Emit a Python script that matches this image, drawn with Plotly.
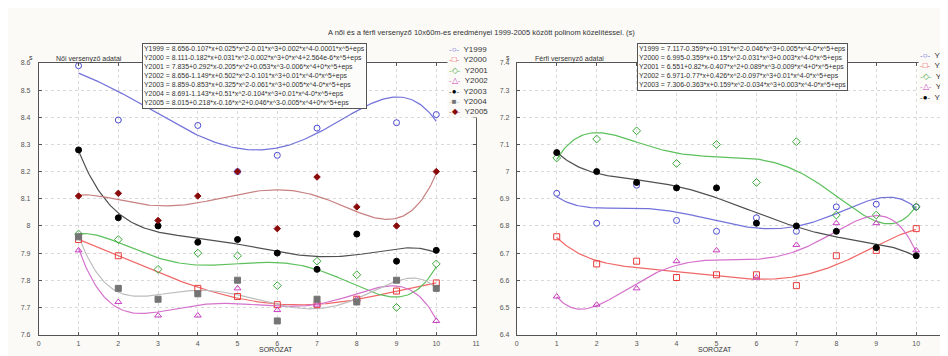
import numpy as np
import plotly.graph_objects as go

# ---------------- data ----------------
x_vals = [1, 2, 3, 4, 5, 6, 7, 8, 9, 10]

women_names = ["Y1999", "Y2000", "Y2001", "Y2002", "Y2003", "Y2004", "Y2005"]
# x=3 and x=8 of Y1999 lie behind the equation box (estimated from the fitted curve);
# x=5 of Y1999 overlaps the Y2005 marker at 8.2
w1999 = [8.59, 8.39, 8.52, 8.37, 8.20, 8.26, 8.36, 8.52, 8.38, 8.41]
w2000 = [7.95, 7.89, None, 7.77, 7.74, 7.71, 7.71, 7.73, 7.76, 7.79]
w2001 = [7.97, 7.95, 7.84, 7.90, 7.89, 7.78, 7.87, 7.82, 7.70, 7.86]
w2002 = [7.91, 7.72, 7.67, 7.67, 7.77, 7.69, 7.71, 7.73, 7.80, 7.65]
w2003 = [8.28, 8.03, 8.00, 7.94, 7.95, 7.90, 7.84, 7.97, 7.87, 7.91]
w2004 = [7.96, 7.77, 7.73, 7.75, 7.80, 7.65, 7.73, 7.72, 7.80, 7.77]
w2005 = [8.11, 8.12, 8.02, 8.11, 8.20, 7.99, 8.18, 8.07, 8.00, 8.20]
women_series = [w1999, w2000, w2001, w2002, w2003, w2004, w2005]

men_names = ["Y1999", "Y2000", "Y2001", "Y2002", "Y2003"]
m1999 = [6.92, 6.81, 6.95, 6.82, 6.78, 6.83, 6.78, 6.87, 6.88, 6.87]
m2000 = [6.76, 6.66, 6.67, 6.61, 6.62, 6.62, 6.58, 6.69, 6.71, 6.79]
m2001 = [7.05, 7.12, 7.15, 7.03, 7.10, 6.96, 7.11, 6.84, 6.84, 6.87]
m2002 = [6.54, 6.51, 6.57, 6.67, 6.71, 6.61, 6.73, 6.81, 6.81, 6.71]
m2003 = [7.07, 7.00, 6.96, 6.94, 6.94, 6.81, 6.80, 6.78, 6.72, 6.69]
men_series = [m1999, m2000, m2001, m2002, m2003]

women_eq = [
    "Y1999 = 8.656-0.107*x+0.025*x^2-0.01*x^3+0.002*x^4-0.0001*x^5+eps",
    "Y2000 = 8.111-0.182*x+0.031*x^2-0.002*x^3+0*x^4+2.564e-6*x^5+eps",
    "Y2001 = 7.835+0.292*x-0.205*x^2+0.053*x^3-0.006*x^4+0*x^5+eps",
    "Y2002 = 8.656-1.149*x+0.502*x^2-0.101*x^3+0.01*x^4-0*x^5+eps",
    "Y2003 = 8.859-0.853*x+0.325*x^2-0.061*x^3+0.005*x^4-0*x^5+eps",
    "Y2004 = 8.691-1.143*x+0.51*x^2-0.104*x^3+0.01*x^4-0*x^5+eps",
    "Y2005 = 8.015+0.218*x-0.16*x^2+0.046*x^3-0.005*x^4+0*x^5+eps",
]
men_eq = [
    "Y1999 = 7.117-0.359*x+0.191*x^2-0.046*x^3+0.005*x^4-0*x^5+eps",
    "Y2000 = 6.995-0.359*x+0.15*x^2-0.031*x^3+0.003*x^4-0*x^5+eps",
    "Y2001 = 6.551+0.82*x-0.407*x^2+0.089*x^3-0.009*x^4+0*x^5+eps",
    "Y2002 = 6.971-0.77*x+0.426*x^2-0.097*x^3+0.01*x^4-0*x^5+eps",
    "Y2003 = 7.306-0.363*x+0.159*x^2-0.034*x^3+0.003*x^4-0*x^5+eps",
]

women_yticks = [7.6, 7.7, 7.8, 7.9, 8.0, 8.1, 8.2, 8.3, 8.4, 8.5, 8.6]
men_yticks = [6.4, 6.5, 6.6, 6.7, 6.8, 6.9, 7.0, 7.1, 7.2, 7.3, 7.4]
xticks = [0, 1, 2, 3, 4, 5, 6, 7, 8, 9, 10, 11]

title_text = "A női és a férfi versenyző 10x60m-es eredményei 1999-2005 között polinom közelítéssel. (s)"

# ---------------- styles ----------------
W, H = 948, 356
FONT = "Liberation Sans, Arial, sans-serif"
styles = [
    dict(sym="circle-open", mc="#4a4ad0", lc="#7272da", size=6, glyph="○"),
    dict(sym="square-open", mc="#e83c3c", lc="#f06868", size=6, glyph="□"),
    dict(sym="diamond-open", mc="#3aa83a", lc="#5cc05c", size=6, glyph="◇"),
    dict(sym="triangle-up-open", mc="#c83cc0", lc="#d472cc", size=6, glyph="△"),
    dict(sym="circle", mc="#000000", lc="#505050", size=6, glyph="●"),
    dict(sym="square", mc="#747474", lc="#bcbcbc", size=6, glyph="■"),
    dict(sym="diamond", mc="#8a0a0a", lc="#c88080", size=5, glyph="◆"),
]


def px(v):
    return v / W


def py(v):
    return 1 - v / H


fig = go.Figure()
xs = np.linspace(1, 10, 200)


def add_panel(series_list, names, xa, ya):
    xarr = np.array(x_vals, dtype=float)
    for i, (vals, name) in enumerate(zip(series_list, names)):
        st = styles[i]
        yarr = np.array([np.nan if v is None else v for v in vals], dtype=float)
        m = ~np.isnan(yarr)
        coef = np.polyfit(xarr[m], yarr[m], 5)
        fig.add_trace(go.Scatter(x=xs, y=np.polyval(coef, xs), mode="lines",
                                 line=dict(color=st["lc"], width=1.2),
                                 xaxis=xa, yaxis=ya, showlegend=False,
                                 hoverinfo="skip"))
    for i, (vals, name) in enumerate(zip(series_list, names)):
        st = styles[i]
        fig.add_trace(go.Scatter(x=x_vals, y=vals, mode="markers", name=name,
                                 marker=dict(symbol=st["sym"], color=st["mc"],
                                             size=st["size"],
                                             line=dict(width=1, color=st["mc"])),
                                 xaxis=xa, yaxis=ya, showlegend=False))


add_panel(women_series, women_names, "x", "y")
add_panel(men_series, men_names, "x2", "y2")

axis_common = dict(showgrid=True, gridcolor="#d9d9d9", griddash="dot", gridwidth=1,
                   showline=True, linecolor="#555555", linewidth=1, mirror="ticks",
                   ticks="inside", ticklen=3, tickcolor="#555555",
                   tickfont=dict(family=FONT, size=7, color="#555555"),
                   zeroline=False)

ydom = [py(329), py(52)]
fig.update_layout(
    width=W, height=H,
    margin=dict(l=0, r=0, t=0, b=0),
    paper_bgcolor="#fbfaf7", plot_bgcolor="#ffffff",
    showlegend=False,
    xaxis=dict(domain=[px(29), px(469)], range=[0, 11], tickvals=xticks,
               anchor="y", ticklabelstandoff=2, **axis_common),
    yaxis=dict(domain=ydom, range=[7.6, 8.6], tickvals=women_yticks,
               anchor="x", ticklabelstandoff=6, **axis_common),
    xaxis2=dict(domain=[px(510), 1.0], range=[0, 438 / 40.2], tickvals=xticks[:-1],
                anchor="y2", ticklabelstandoff=2, **axis_common),
    yaxis2=dict(domain=ydom, range=[6.4, 7.4], tickvals=men_yticks,
                anchor="x2", ticklabelstandoff=5, **axis_common),
)

ann = []
tf = dict(family=FONT, size=7, color="#333333")
ann.append(dict(text=title_text, x=px(474), y=py(14), xref="paper", yref="paper",
                showarrow=False, font=dict(family=FONT, size=7.5, color="#333333")))
for xc, label in [(17, "s"), (501, "s")]:
    ann.append(dict(text=label, x=px(xc), y=py(41), xref="paper", yref="paper",
                    showarrow=False, font=tf))
ann.append(dict(text="Női versenyző adatai", x=px(44), y=py(42), xref="paper",
                yref="paper", xanchor="left", showarrow=False, font=tf))
ann.append(dict(text="Férfi versenyző adatai", x=px(526), y=py(42), xref="paper",
                yref="paper", xanchor="left", showarrow=False, font=tf))
for xc in [249, 729]:
    ann.append(dict(text="SOROZAT", x=px(xc), y=py(350), xref="paper", yref="paper",
                    showarrow=False, font=tf))

# equation boxes
eq_font = dict(family=FONT, size=6.9, color="#333333")
ann.append(dict(text="<br>".join(women_eq), x=px(133), y=py(32), xref="paper",
                yref="paper", xanchor="left", yanchor="top", align="left",
                showarrow=False, bgcolor="#fcfcfa", bordercolor="#555555",
                borderwidth=1, borderpad=1, font=eq_font))
ann.append(dict(text="<br>".join(men_eq), x=px(631), y=py(32), xref="paper",
                yref="paper", xanchor="left", yanchor="top", align="left",
                showarrow=False, bgcolor="#fcfcfa", bordercolor="#555555",
                borderwidth=1, borderpad=1, font=eq_font))


def legend_text(names):
    rows = []
    for i, n in enumerate(names):
        st = styles[i]
        rows.append(f'<span style="color:{st["lc"]}">-</span>'
                    f'<span style="color:{st["mc"]}">{st["glyph"]}</span>'
                    f'<span style="color:{st["lc"]}">-</span>  {n}')
    return "<br>".join(rows)


ann.append(dict(text=legend_text(women_names), x=px(440), y=py(32), xref="paper",
                yref="paper", xanchor="left", yanchor="top", align="left",
                showarrow=False, bgcolor="#fbfaf7", borderpad=1,
                font=dict(family=FONT, size=8, color="#333333")))
ann.append(dict(text=legend_text(men_names), x=px(914), y=py(38), xref="paper",
                yref="paper", xanchor="left", yanchor="top", align="left",
                showarrow=False, bgcolor="#fbfaf7", borderpad=1,
                font=dict(family=FONT, size=8, color="#333333")))

fig.update_layout(annotations=ann)
fig.write_html("out.html")
